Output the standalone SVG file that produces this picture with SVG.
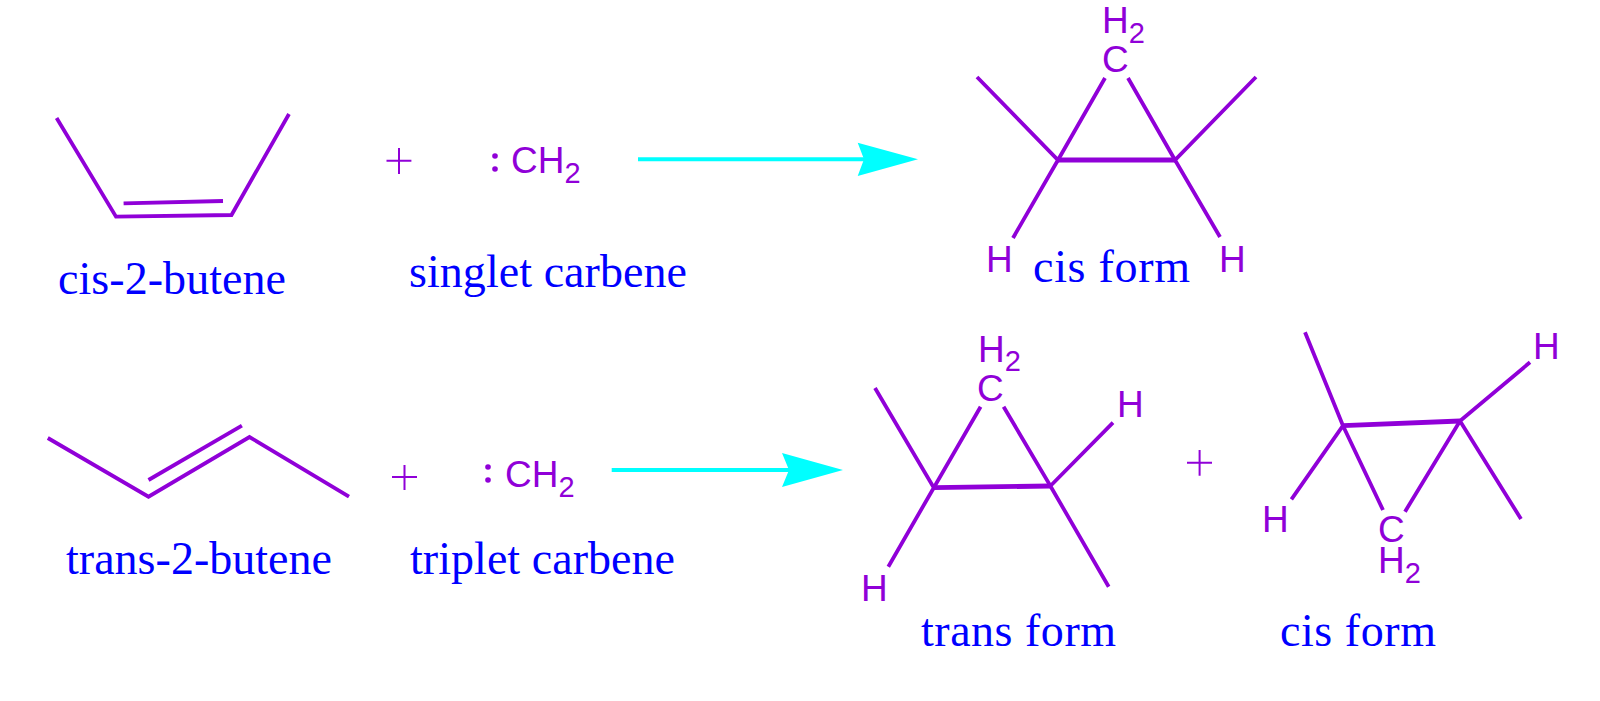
<svg xmlns="http://www.w3.org/2000/svg" width="1600" height="701" viewBox="0 0 1600 701">
<style>
.bond{fill:none;stroke:#9000d8;stroke-width:3.8;stroke-linejoin:miter}
.thick{stroke-width:4.8}
.plus{fill:none;stroke:#9000d8;stroke-width:2}
.dot{fill:#9000d8}
.arrow{fill:none;stroke:#00ffff;stroke-width:4}
.head{fill:#00ffff}
.atom{font-family:"Liberation Sans",Arial,sans-serif;font-size:37px;fill:#9000d8}
.sub{font-size:29px}
.name{font-family:"Liberation Serif","Times New Roman",serif;font-size:46px;fill:#0000ff}
</style>
<rect width="1600" height="701" fill="#ffffff"/>
<g id="cis-2-butene">
<path class="bond" d="M56.6 118L116 216.7L231.5 215L289 114"/>
<path class="bond" d="M123.6 203.3L223 201"/>
<text class="name" x="58" y="294" textLength="228">cis-2-butene</text>
</g>
<g id="singlet-carbene">
<path class="plus" d="M386.5 160.7H411.4M399 148V174"/>
<circle class="dot" cx="495" cy="156" r="2.8"/><circle class="dot" cx="495" cy="169" r="2.8"/>
<text class="atom" x="511" y="173">CH<tspan class="sub" dy="10">2</tspan></text>
<text class="name" x="409" y="286.5" textLength="278">singlet carbene</text>
</g>
<g id="cis-product">
<path class="bond" d="M977 77L1058 160L1105 78M1128 78L1175 160L1256 77M1058 160L1013 238M1175 160L1220 237"/>
<path class="bond thick" d="M1058 160H1175"/>
<text class="atom" x="1102" y="33">H<tspan class="sub" dy="10">2</tspan></text>
<text class="atom" x="1102" y="72">C</text>
<text class="atom" x="986" y="272">H</text>
<text class="atom" x="1219" y="272">H</text>
<text class="name" x="1033" y="282" textLength="157">cis form</text>
</g>
<g id="trans-2-butene">
<path class="bond" d="M47.8 438L148.5 496.7L249.5 437L349 496.7"/>
<path class="bond" d="M148.5 480L241.9 425.7"/>
<text class="name" x="66" y="574" textLength="266">trans-2-butene</text>
</g>
<g id="triplet-carbene">
<path class="plus" d="M392 477H417M404.5 465V490"/>
<circle class="dot" cx="488" cy="467" r="2.8"/><circle class="dot" cx="488" cy="480" r="2.8"/>
<text class="atom" x="505" y="487">CH<tspan class="sub" dy="10">2</tspan></text>
<text class="name" x="410" y="574" textLength="265">triplet carbene</text>
</g>
<g id="trans-product">
<path class="bond" d="M875 388L933.8 487.7L980.6 406.7M1003.6 406.7L1050.4 486L1113 422.7M933.8 487.7L888.3 566.7M1050.4 486L1108.7 586.7"/>
<path class="bond thick" d="M933.8 487.7L1050.4 486"/>
<text class="atom" x="978" y="362">H<tspan class="sub" dy="9">2</tspan></text>
<text class="atom" x="977" y="401">C</text>
<text class="atom" x="1117" y="417">H</text>
<text class="atom" x="861" y="600.5">H</text>
<text class="name" x="921" y="646" textLength="195">trans form</text>
</g>
<path id="plus-products" class="plus" d="M1187 462.7H1212M1199.6 450V475.7"/>
<g id="cis-product-2">
<path class="bond" d="M1305 332.3L1343 425.7L1383 510M1343 425.7L1291.4 499.3M1460 421L1405 511.7M1460 421L1521 519M1460 421L1530 362.3"/>
<path class="bond thick" d="M1343 425.7L1460 421"/>
<text class="atom" x="1533" y="359">H</text>
<text class="atom" x="1262" y="532">H</text>
<text class="atom" x="1378" y="542">C</text>
<text class="atom" x="1378" y="573">H<tspan class="sub" dy="10">2</tspan></text>
<text class="name" x="1280" y="646" textLength="156">cis form</text>
</g>
<g id="connectors">
<path class="arrow" d="M638 159.3H870"/>
<path class="head" d="M918 159.3L857.7 142.7L864 159.3L857.7 176Z"/>
<path class="arrow" d="M611.7 470H795"/>
<path class="head" d="M843 470L782 453L789 470L782 487Z"/>
</g>
</svg>
